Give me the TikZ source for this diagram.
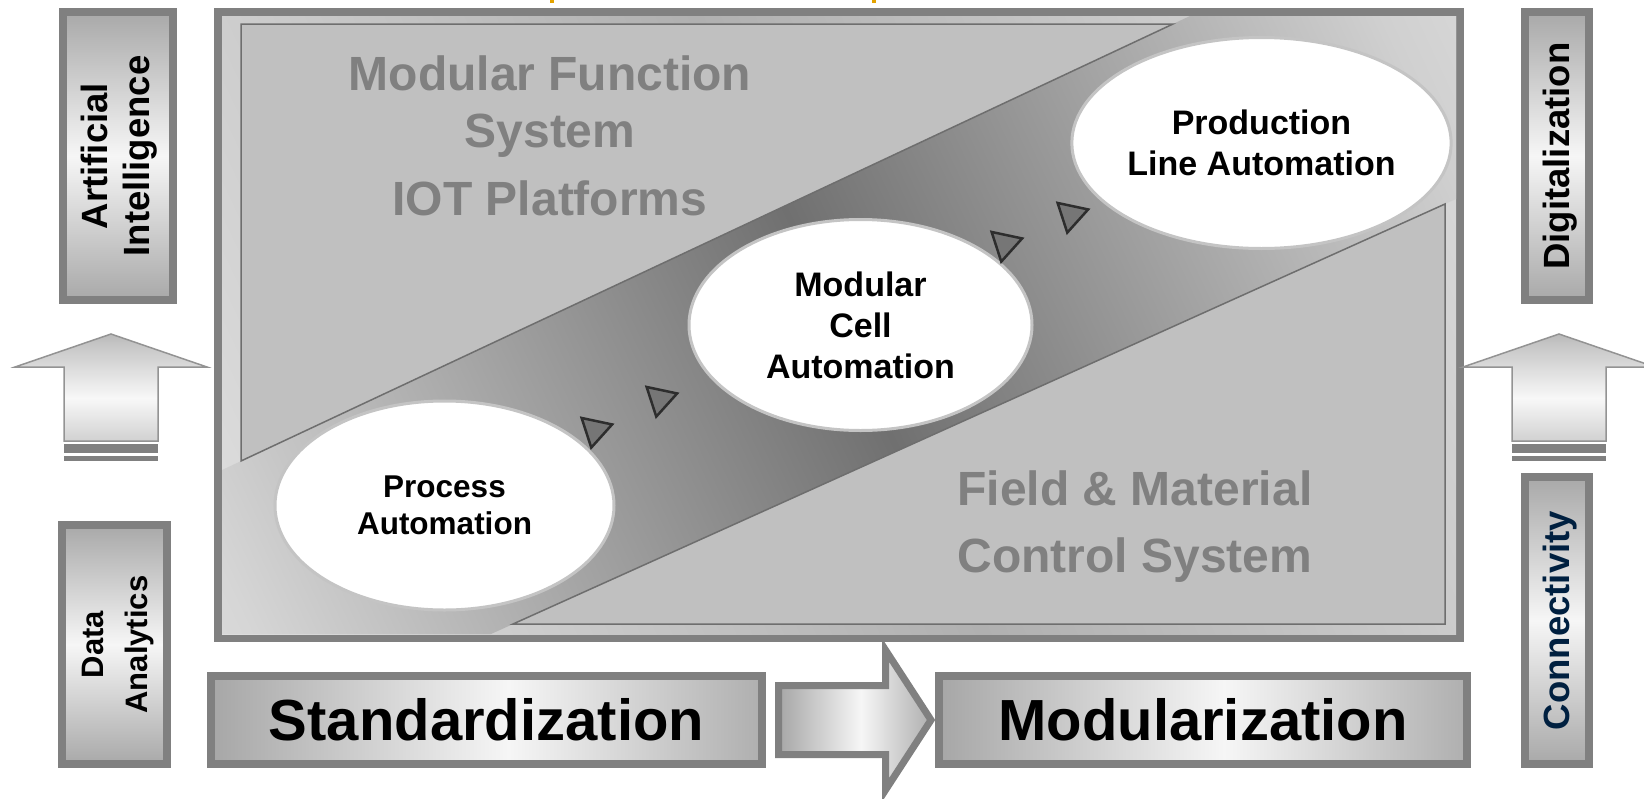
\documentclass[tikz,border=0pt]{standalone}
\usepackage{fontspec}
\setmainfont{Liberation Sans}
\usepackage{tikz}
\usetikzlibrary{shapes.geometric}

\definecolor{framegray}{RGB}{128,128,128}
\definecolor{zonefill}{RGB}{192,192,192}
\definecolor{zoneline}{RGB}{110,110,110}
\definecolor{ovalline}{RGB}{196,196,196}
\definecolor{trifill}{RGB}{118,118,118}
\definecolor{triline}{RGB}{45,45,45}
\definecolor{navy}{RGB}{0,32,64}
\definecolor{tick}{RGB}{228,163,0}
\definecolor{bandA}{RGB}{242,242,242}
\definecolor{bandB}{RGB}{214,214,214}
\definecolor{bandC}{RGB}{112,112,112}
\definecolor{bandD}{RGB}{208,208,208}
\definecolor{edgeB}{RGB}{222,222,222}
\definecolor{edgeC}{RGB}{176,176,176}
\definecolor{edgeD}{RGB}{216,216,216}
\definecolor{barA}{RGB}{122,122,122}
\definecolor{barB}{RGB}{246,246,246}
\definecolor{upA}{RGB}{160,160,160}
\definecolor{upB}{RGB}{248,248,248}
\definecolor{upC}{RGB}{200,200,200}
\definecolor{upD}{RGB}{125,125,125}

\pgfdeclarehorizontalshading{bandshade}{100bp}{color(0bp)=(bandA); color(18bp)=(bandB); color(50bp)=(bandC); color(80bp)=(bandD); color(100bp)=(bandA)}
\pgfdeclarehorizontalshading{edgeshade}{100bp}{color(0bp)=(bandA); color(18bp)=(edgeB); color(50bp)=(edgeC); color(80bp)=(edgeD); color(100bp)=(bandA)}
\pgfdeclarehorizontalshading{barh}{100bp}{color(0bp)=(barA); color(10bp)=(barA); color(52bp)=(barB); color(92bp)=(barA); color(100bp)=(barA)}
\pgfdeclareverticalshading{barv}{100bp}{color(0bp)=(barA); color(10bp)=(barA); color(50bp)=(barB); color(90bp)=(barA); color(100bp)=(barA)}
\pgfdeclareverticalshading{upshade}{100bp}{color(0bp)=(upA); color(45bp)=(upB); color(69bp)=(upC); color(100bp)=(upD)}

\begin{document}
\begin{tikzpicture}
		[
		x=1pt, y=-1pt,
		inner sep=0pt
		]
		
		% Styles: zones, levels, bars and labels
		\tikzstyle{zone}=[fill=zonefill, draw=zoneline, line width=1.5pt];
		\tikzstyle{zonetext}=[anchor=base, text=framegray, font=\bfseries\fontsize{48}{57}\selectfont];
		\tikzstyle{level}=[ellipse, draw=ovalline, line width=3pt, fill=white, align=center, minimum width=343pt, minimum height=211pt, font=\bfseries\fontsize{34}{41}\selectfont];
		\tikzstyle{stepmark}=[regular polygon, regular polygon sides=3, minimum size=36pt, fill=trifill, draw=triline, line width=2.5pt, rotate=168];
		\tikzstyle{hbar}=[draw=framegray, line width=8pt, shading=barh, minimum height=88pt, font=\bfseries\fontsize{58}{60}\selectfont];
		\tikzstyle{vbar}=[draw=framegray, line width=8pt, shading=barv];
		\tikzstyle{sidetext}=[anchor=base, rotate=90, font=\bfseries\fontsize{36.5}{40}\selectfont];
		\tikzstyle{uparrow}=[draw=framegray!85, line width=1.5pt, shading=upshade];
		
		\useasboundingbox (0,0) rectangle (1644,798);
		
		% cut-off marks above the frame
		\fill[tick] (550,0) rectangle (554,3);
		\fill[tick] (872,0) rectangle (876,3);
		
		% The frame, with the dark band between the zones
		\fill[framegray] (214,8) rectangle (1464,642);
		\shade[shading=edgeshade, shading angle=25] (222,16) rectangle (1456,634);
		\shade[shading=bandshade, shading angle=25] (1190,16) -- (1456,16) -- (1456,199) -- (491,634) -- (222,634) -- (222,470) -- cycle;
		\filldraw[zone] (241,24) -- (1173,24) -- (241,461) -- cycle;
		\filldraw[zone] (1445,204) -- (1445,624) -- (513,624) -- cycle;
		
		% Zone labels
		\node[zonetext] (mfs1) at (550,90) {Modular Function};
		\node[zonetext] (mfs2) at (550,147) {System};
		\node[zonetext] (iot) at (550,215) {IOT Platforms};
		\node[zonetext] (fmc1) at (1135,505) {Field \& Material};
		\node[zonetext] (fmc2) at (1135,572) {Control System};
		
		% Automation levels
		\node[level, minimum width=339pt, minimum height=209pt, font=\bfseries\fontsize{31.5}{37}\selectfont] (pa) at (444.5,505.5) {Process\\Automation};
		\node[level] (mca) at (860.5,325) {Modular\\Cell\\Automation};
		\node[level] (pla) at (1261.5,143) {Production\\Line Automation};
		
		% Steps between the levels
		\foreach \p [count=\i] in {(595,430),(660,399),(1005,244),(1071,215)}
			\node[stepmark] (s\i) at \p {};
		
		% Bottom bars and the arrow between them
		\node[hbar, minimum width=551pt] (std) at (486.5,720) {Standardization};
		\node[hbar, minimum width=528pt] (mod) at (1203,720) {Modularization};
		\filldraw[draw=framegray, line width=7pt, shading=barh] (778.5,685.5) -- (885.5,685.5) -- (885.5,650) -- (931,720) -- (885.5,790) -- (885.5,754.5) -- (778.5,754.5) -- cycle;
		
		% Side bars
		\node[vbar, minimum width=110pt, minimum height=288pt] (aibar) at (118,156) {};
		\node[vbar, minimum width=105pt, minimum height=239pt] (dabar) at (114.5,644.5) {};
		\node[vbar, minimum width=64pt, minimum height=288pt] (digbar) at (1557,156) {};
		\node[vbar, minimum width=64pt, minimum height=287pt] (conbar) at (1557,620.5) {};
		
		% Side arrows
		\foreach \x in {111,1559} {
			\filldraw[uparrow] (\x-47,441) -- (\x-47,367) -- (\x-96,367) -- (\x,334) -- (\x+96,367) -- (\x+47,367) -- (\x+47,441) -- cycle;
			\fill[framegray] (\x-47,444) rectangle (\x+47,453);
			\fill[framegray] (\x-47,456) rectangle (\x+47,461);
		}
		
		% Side labels
		\node[sidetext] (ai1) at (107,156) {Artificial};
		\node[sidetext] (ai2) at (149,156) {Intelligence};
		\node[sidetext, font=\bfseries\fontsize{31}{36}\selectfont] (da1) at (103,644.5) {Data};
		\node[sidetext, font=\bfseries\fontsize{31}{36}\selectfont] (da2) at (147,644.5) {Analytics};
		\node[sidetext] (dig) at (1569,156) {Digitalization};
		\node[sidetext, text=navy] (con) at (1569,620.5) {Connectivity};
		
\end{tikzpicture}
\end{document}
